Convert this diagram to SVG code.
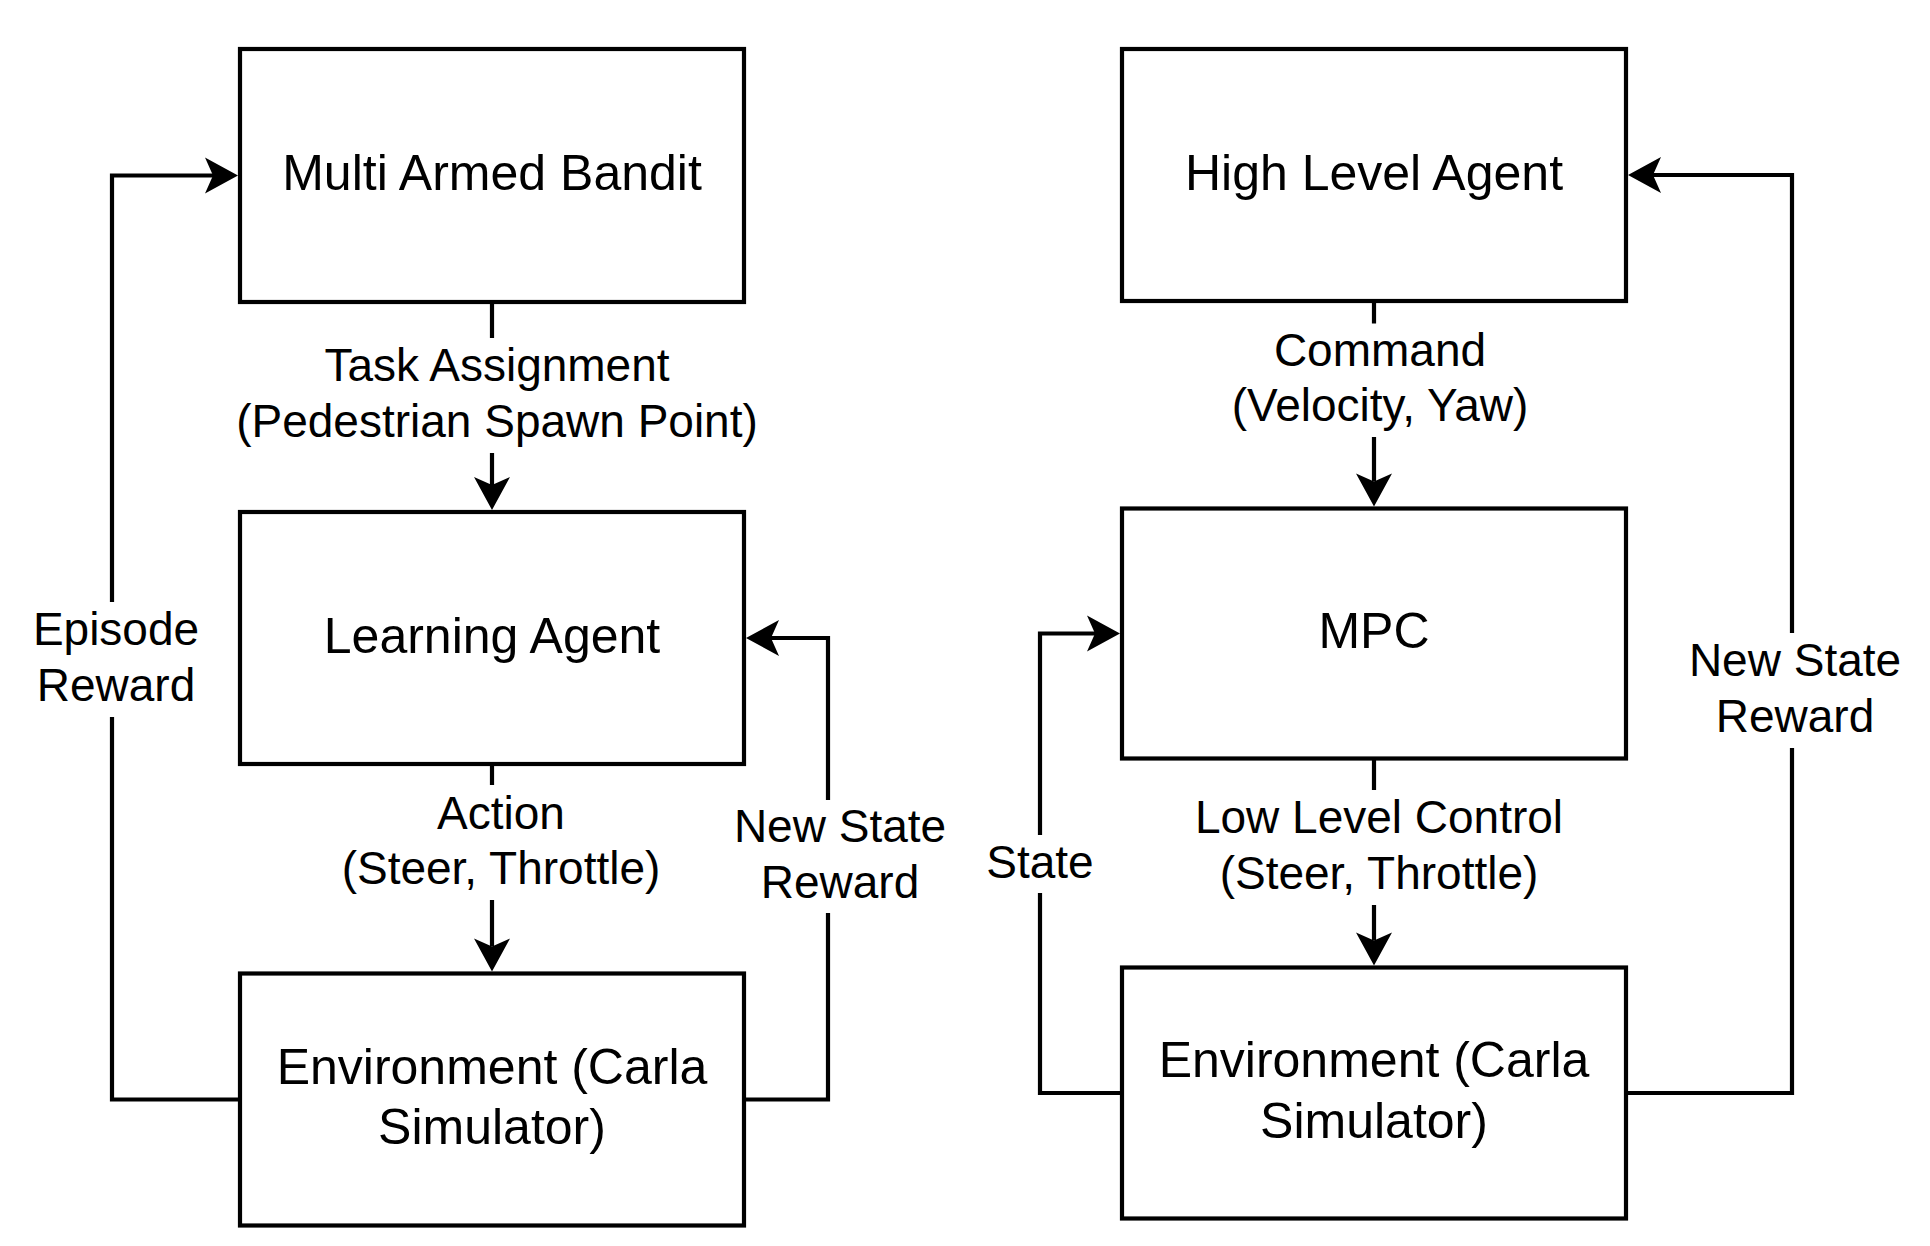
<svg xmlns="http://www.w3.org/2000/svg" width="1930" height="1246" viewBox="0 0 1930 1246">
  <style>
    .box { fill: #ffffff; stroke: #000000; stroke-width: 4.2; }
    .node-text { font-family: "Liberation Sans", Arial, Helvetica, sans-serif; font-size: 50px; fill: #000000; text-anchor: middle; }
    .label { font-family: "Liberation Sans", Arial, Helvetica, sans-serif; font-size: 46px; fill: #000000; text-anchor: middle; }
    .edge { fill: none; stroke: #000000; stroke-width: 4.2; stroke-linejoin: miter; marker-end: url(#arrow); }
  </style>
  <defs>
    <marker id="arrow" markerUnits="userSpaceOnUse" markerWidth="33" markerHeight="36" viewBox="0 -18 33 36" refX="8" refY="0" orient="auto" overflow="visible">
      <path d="M0,-18 L33,0 L0,18 L8,0 Z" fill="#000000" stroke="none"/>
    </marker>
  </defs>
  <rect x="0" y="0" width="1930" height="1246" fill="#ffffff"/>

  <g id="connectors">
    <path id="edge-task" class="edge" d="M492,302 V338 M492,453 V485"/>
    <path id="edge-action" class="edge" d="M492,764 V785 M492,900 V946.5"/>
    <path id="edge-episode" class="edge" d="M240,1099.5 H112 V717 M112,602 V175.5 H213"/>
    <path id="edge-newstate-left" class="edge" d="M744,1099.5 H828 V913 M828,800 V638 H771"/>
    <path id="edge-command" class="edge" d="M1374,301 V323.5 M1374,437 V481.5"/>
    <path id="edge-lowlevel" class="edge" d="M1374,758.5 V790 M1374,905 V940.5"/>
    <path id="edge-state" class="edge" d="M1122,1093 H1040 V893 M1040,835 V633.5 H1095"/>
    <path id="edge-newstate-right" class="edge" d="M1626,1093 H1792 V748 M1792,633 V175 H1653"/>
  </g>

  <g id="edge-labels">
    <text class="label" x="497" y="381">Task Assignment</text>
    <text class="label" x="497" y="436.5">(Pedestrian Spawn Point)</text>
    <text class="label" x="501" y="828.5">Action</text>
    <text class="label" x="501" y="884">(Steer, Throttle)</text>
    <text class="label" x="116" y="645">Episode</text>
    <text class="label" x="116" y="700.5">Reward</text>
    <text class="label" x="840" y="842">New State</text>
    <text class="label" x="840" y="897.5">Reward</text>
    <text class="label" x="1380" y="365.5">Command</text>
    <text class="label" x="1380" y="421">(Velocity, Yaw)</text>
    <text class="label" x="1379" y="833">Low Level Control</text>
    <text class="label" x="1379" y="888.5">(Steer, Throttle)</text>
    <text class="label" x="1040" y="877.5">State</text>
    <text class="label" x="1795" y="676">New State</text>
    <text class="label" x="1795" y="731.5">Reward</text>
  </g>

  <g id="node-mab">
    <rect class="box" x="240" y="49" width="504" height="253"/>
    <text class="node-text" x="492" y="190">Multi Armed Bandit</text>
  </g>
  <g id="node-learning-agent">
    <rect class="box" x="240" y="512" width="504" height="252"/>
    <text class="node-text" x="492" y="652.5">Learning Agent</text>
  </g>
  <g id="node-env-left">
    <rect class="box" x="240" y="973.5" width="504" height="252"/>
    <text class="node-text" x="492" y="1083.75">Environment (Carla</text>
    <text class="node-text" x="492" y="1144.25">Simulator)</text>
  </g>
  <g id="node-high-level-agent">
    <rect class="box" x="1122" y="49" width="504" height="252"/>
    <text class="node-text" x="1374" y="189.5">High Level Agent</text>
  </g>
  <g id="node-mpc">
    <rect class="box" x="1122" y="508.5" width="504" height="250"/>
    <text class="node-text" x="1374" y="648">MPC</text>
  </g>
  <g id="node-env-right">
    <rect class="box" x="1122" y="967.5" width="504" height="251"/>
    <text class="node-text" x="1374" y="1077.25">Environment (Carla</text>
    <text class="node-text" x="1374" y="1137.75">Simulator)</text>
  </g>
</svg>
